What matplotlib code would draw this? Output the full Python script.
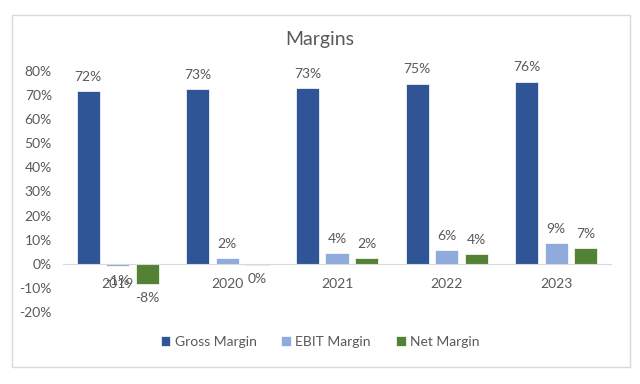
import numpy as np
import matplotlib.pyplot as plt
from matplotlib.patches import Rectangle

# data (percent)
years = ["2019", "2020", "2021", "2022", "2023"]
gross_margin = [71.7, 72.6, 73.0, 74.7, 75.6]
ebit_margin = [-1.0, 2.3, 4.4, 5.7, 8.6]
net_margin = [-8.2, -0.5, 2.2, 3.9, 6.6]
series_names = ["Gross Margin", "EBIT Margin", "Net Margin"]
colors = ["#2F5597", "#8FAADC", "#548235"]

plt.rcParams['font.family'] = ['Lato', 'DejaVu Sans']
text_col = "#595959"

fig = plt.figure(figsize=(6.4, 3.84), dpi=100)
fig.patches.append(Rectangle((12/640, 1-367/384), 618/640, 352/384,
                             transform=fig.transFigure, fill=False,
                             edgecolor="#D9D9D9", linewidth=1))
ax = fig.add_axes([63/640, 1-312/384, 548/640, 241/384])

x = np.arange(len(years))
width = 0.21
step = 0.27
all_series = [gross_margin, ebit_margin, net_margin]

for i, (vals, name, c) in enumerate(zip(all_series, series_names, colors)):
	pos = x + (i - 1) * step
	ax.bar(pos, vals, width, color=c, label=name, edgecolor="white", linewidth=0.5)
	for p, v in zip(pos, vals):
		lab = "%d%%" % int(round(v))
		if v >= 0:
			ax.annotate(lab, (p, v), xytext=(0, 6), textcoords="offset points",
			            ha="center", va="bottom", fontsize=10, color=text_col)
		else:
			ax.annotate(lab, (p, v), xytext=(0, -6), textcoords="offset points",
			            ha="center", va="top", fontsize=10, color=text_col)

ax.set_ylim(-20, 80)
ax.set_xlim(-0.5, len(years) - 0.5)
ax.set_yticks(np.arange(-20, 81, 10))
ax.set_yticklabels(["%d%%" % t for t in range(-20, 81, 10)])
ax.set_xticks(x)
ax.set_xticklabels(years)
for s in ["top", "right", "left"]:
	ax.spines[s].set_visible(False)
ax.spines["bottom"].set_position(("data", 0))
ax.spines["bottom"].set_color("#D9D9D9")
ax.tick_params(axis="both", length=0, labelsize=10, labelcolor=text_col)
ax.tick_params(axis="x", pad=10)
ax.tick_params(axis="y", pad=8)

fig.text(0.5, 1-40/384, "Margins", ha="center", va="center", fontsize=14, color=text_col)
fig.legend(loc="center", bbox_to_anchor=(0.5, 1-342/384), ncol=3, frameon=False,
           fontsize=10, labelcolor=text_col, handlelength=0.7, handleheight=0.7,
           handletextpad=0.3, columnspacing=1.8)

plt.savefig("out.png")
